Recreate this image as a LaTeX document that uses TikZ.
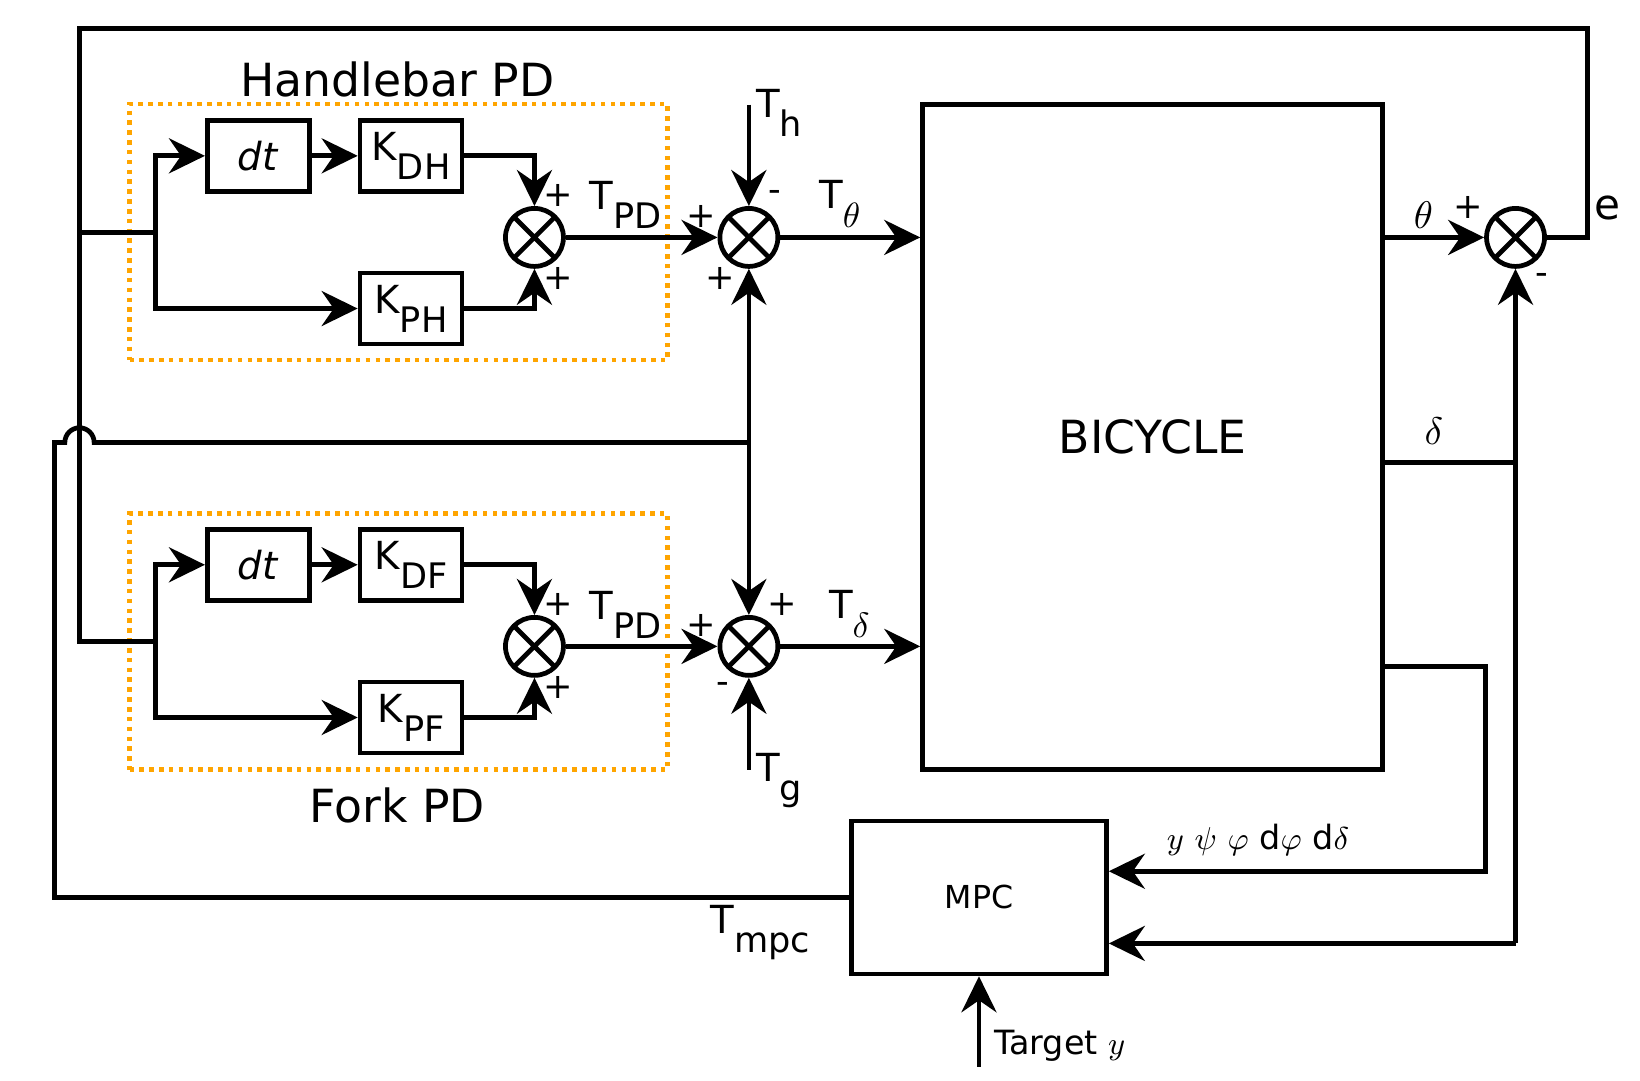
\documentclass[tikz,border=0pt]{standalone}
\usepackage{amsmath}
\usepackage{fontspec}
\setmainfont{DejaVu Sans}
\usetikzlibrary{positioning, arrows.meta, calc}
\definecolor{pdorange}{RGB}{255,165,0}
\newcommand{\lsub}[1]{\raisebox{-0.9ex}{\fontsize{10}{10}\selectfont #1}}
\tikzset{
  wire/.style  = {line width=1.35pt},
  ar/.style    = {line width=1.35pt, -{Stealth[length=3.6mm, width=3.5mm, inset=1.2mm]}},
  blk/.style   = {draw, rectangle, line width=1.35pt, inner sep=0pt,
                  minimum width=10.2mm, minimum height=7.1mm,
                  font=\fontsize{11}{11}\selectfont},
  sm/.style    = {draw, circle, line width=1.35pt, minimum size=5.8mm, inner sep=0pt,
                  path picture={\draw[line width=1.35pt]
                    (path picture bounding box.north west) -- (path picture bounding box.south east)
                    (path picture bounding box.south west) -- (path picture bounding box.north east);}},
  pdbox/.style = {draw=pdorange, line width=1.3pt, dash pattern=on 1.3pt off 1.5pt,
                  minimum width=53.8mm, minimum height=25.6mm, inner sep=0pt},
  sgn/.style   = {font=\fontsize{10}{10}\selectfont, inner sep=0pt},
  lbl/.style   = {font=\fontsize{11}{11}\selectfont, inner sep=0pt},
  ttl/.style   = {font=\fontsize{13}{13}\selectfont, inner sep=0pt},
}

\begin{document}
\begin{tikzpicture}[x=0.1046mm, y=-0.1046mm]
  \useasboundingbox (0,0) rectangle (1568,1033);
  % PD frames
  \node[pdbox] (hpd) at (381,222) {};
  \node[pdbox] (fpd) at (381,613.5) {};
  \node[ttl] (hpdl) at (380,76) {Handlebar PD};
  \node[ttl] (fpdl) at (380,770) {Fork PD};
  % handlebar blocks
  \node[blk] (dtH) at (247,149) {\textit{dt}};
  \node[blk] (kdh) at (393,149) {K\lsub{DH}};
  \node[blk] (kph) at (393,295) {K\lsub{PH}};
  \node[sm]  (sH)  at (511,227) {};
  \node[sm]  (sT)  at (716,227) {};
  % fork blocks
  \node[blk] (dtF) at (247,540) {\textit{dt}};
  \node[blk] (kdf) at (393,540) {K\lsub{DF}};
  \node[blk] (kpf) at (393,686) {K\lsub{PF}};
  \node[sm]  (sF)  at (511,618) {};
  \node[sm]  (sD)  at (716,618) {};
  % plant, error, controller
  \node[draw, line width=1.35pt, minimum width=46mm, minimum height=66.5mm,
        font=\fontsize{13}{13}\selectfont] (bike) at (1102,418) {BICYCLE};
  \node[sm] (sE) at (1449,227) {};
  \node[draw, line width=1.35pt, minimum width=25.5mm, minimum height=15.3mm,
        font=\fontsize{9}{9}\selectfont] (mpc) at (936,858) {MPC};
  % corner points
  \coordinate (tl) at (76,27);
  \coordinate (tr) at (1518,27);
  \coordinate (er) at (1518,227);
  \coordinate (jH) at (76,222);
  \coordinate (bH) at (149,222);
  \coordinate (jF) at (76,613);
  \coordinate (bF) at (149,613);
  \coordinate (jT) at (716,423);
  \coordinate (th) at (716,100);
  \coordinate (tg) at (716,736);
  \coordinate (dj) at (1449,442);
  \coordinate (dl) at (1449,902);
  \coordinate (yr) at (1420,637);
  \coordinate (yc) at (1420,833);
  \coordinate (tgt) at (936,1020);
  % feedback of e
  \draw[wire] (sE.east) -- (er) -- (tr) -- (tl) -- (jF) -- (bF);
  \draw[wire] (jH) -- (bH);
  % handlebar PD
  \draw[ar] (bH) |- (dtH.west);
  \draw[ar] (bH) |- (kph.west);
  \draw[ar] (dtH) -- (kdh);
  \draw[ar] (kdh.east) -| (sH.north);
  \draw[ar] (kph.east) -| (sH.south);
  \draw[ar] (sH) -- (sT);
  \draw[ar] (th) -- (sT.north);
  \draw[ar] (sT) -- (bike.west |- sT);
  % fork PD
  \draw[ar] (bF) |- (dtF.west);
  \draw[ar] (bF) |- (kpf.west);
  \draw[ar] (dtF) -- (kdf);
  \draw[ar] (kdf.east) -| (sF.north);
  \draw[ar] (kpf.east) -| (sF.south);
  \draw[ar] (sF) -- (sD);
  \draw[ar] (tg) -- (sD.south);
  \draw[ar] (sD) -- (bike.west |- sD);
  % MPC torque
  \draw[ar] (jT) -- (sT.south);
  \draw[ar] (jT) -- (sD.north);
  \draw[wire] (jT) -- (90,423) arc[start angle=0, end angle=-180, radius=14]
    -- (52,423) |- (mpc.west);
  % outputs
  \draw[ar] (bike.east |- sE) -- (sE.west);
  \draw[wire] (bike.east |- dj) -- (dj);
  \draw[ar] (dl) -- (sE.south);
  \draw[ar] (dl) -- (mpc.east |- dl);
  \draw[ar] (bike.east |- yr) -- (yr) -- (yc) -- (mpc.east |- yc);
  \draw[ar] (tgt) -- (mpc.south);
  % signs
  \node[sgn] at (534,187) {+};
  \node[sgn] at (534,266) {+};
  \node[sgn] at (670,207) {+};
  \node[sgn] at (741,187) {-};
  \node[sgn] at (689,266) {+};
  \node[sgn] at (534,578) {+};
  \node[sgn] at (534,657) {+};
  \node[sgn] at (670,598) {+};
  \node[sgn] at (748,578) {+};
  \node[sgn] at (691,658) {-};
  \node[sgn] at (1404,198) {+};
  \node[sgn] at (1474,267) {-};
  % signal labels
  \node[lbl] at (598,196) {T\lsub{PD}};
  \node[lbl] at (598,588) {T\lsub{PD}};
  \node[lbl] at (745,108) {T\lsub{h}};
  \node[lbl] at (745,746) {T\lsub{g}};
  \node[lbl] at (803,195) {T\lsub{$\theta$}};
  \node[lbl] at (812,587) {T\lsub{$\delta$}};
  \node[lbl] at (727,892) {T\lsub{mpc}};
  \node[lbl] at (1361,206) {$\theta$};
  \node[lbl] at (1371,412) {$\delta$};
  \node[lbl, font=\fontsize{12}{12}\selectfont] at (1537,199) {e};
  \node[lbl, anchor=west, font=\fontsize{9.5}{9.5}\selectfont] at (1115,803)
    {$y$ $\psi$ $\varphi$ d$\varphi$ d$\delta$};
  \node[lbl, anchor=west, font=\fontsize{9.5}{9.5}\selectfont] at (950,1000)
    {Target $y$};
\end{tikzpicture}
\end{document}
